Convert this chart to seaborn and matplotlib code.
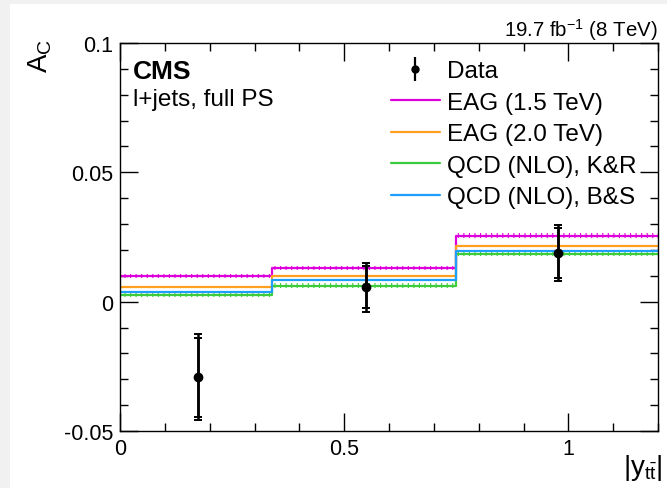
import numpy as np
import pandas as pd
import matplotlib
matplotlib.use('Agg')
import matplotlib.pyplot as plt
from matplotlib.patches import Rectangle
from matplotlib.lines import Line2D
import seaborn as sns

# ======================================
# Data
# ======================================

bin_edges = [0.0, 0.34, 0.75, 1.2]

models = ['EAG (1.5 TeV)', 'EAG (2.0 TeV)', 'QCD (NLO), K&R', 'QCD (NLO), B&S']
eag15 = [0.0099, 0.0130, 0.0255]
eag20 = [0.0058, 0.0100, 0.0217]
qcd_kr = [0.0027, 0.0062, 0.0186]
qcd_bs = [0.0036, 0.0084, 0.0196]

data_x = [0.173, 0.549, 0.978]
data_y = [-0.0292, 0.0056, 0.0187]
data_stat = [0.0152, 0.0082, 0.0097]
data_tot = [0.0166, 0.0095, 0.0108]

colors = ['#dd00dd', '#ffa020', '#3ccc3c', '#1e9eff']

# ======================================
# Build step table
# ======================================

rows = []
for name, vals in zip(models, [eag15, eag20, qcd_kr, qcd_bs]):
    ys = list(vals) + [vals[-1]]
    for e, v in zip(bin_edges, ys):
        rows.append({'edge': e, 'value': v, 'model': name})
steps = pd.DataFrame(rows)

# ======================================
# Plot
# ======================================

sns.set_theme(style='ticks')
plt.rcParams['font.family'] = ['Liberation Sans', 'DejaVu Sans']
plt.rcParams['mathtext.fontset'] = 'custom'
plt.rcParams['mathtext.rm'] = 'Liberation Sans'
plt.rcParams['mathtext.it'] = 'Liberation Sans:italic'
plt.rcParams['hatch.linewidth'] = 0.8
plt.rcParams['text.color'] = 'black'

fig = plt.figure(figsize=(6.67, 4.89), dpi=100)
fig.patch.set_facecolor('#f1f1f1')
fig.add_artist(Rectangle((10 / 667, 0), 1, 484 / 489, transform=fig.transFigure,
                         facecolor='white', edgecolor='none', zorder=-10))

ax = fig.add_axes([120 / 667, 1 - 432 / 489, 538 / 667, 388 / 489])
ax.set_facecolor('white')

# small hatched uncertainty bands
for vals, c in [(eag15, colors[0]), (qcd_kr, colors[2])]:
    ys = np.array(list(vals) + [vals[-1]])
    ax.fill_between(bin_edges, ys - 0.0009, ys + 0.0009, step='post',
                    facecolor='none', edgecolor=c, hatch='|||', linewidth=0)

sns.lineplot(
    data=steps, x='edge', y='value', hue='model', hue_order=models,
    palette=colors, drawstyle='steps-post', estimator=None, sort=False,
    linewidth=1.6, legend=False, ax=ax
)

# data points with stat and total errors
ax.errorbar(data_x, data_y, yerr=data_tot, fmt='none', ecolor='black',
            elinewidth=1.8, capsize=3, capthick=1.4, zorder=5)
ax.errorbar(data_x, data_y, yerr=data_stat, fmt='o', color='black',
            markersize=6, elinewidth=1.8, capsize=3, capthick=1.4, zorder=6)

ax.set_xlim(0, 1.2)
ax.set_ylim(-0.05, 0.1)
ax.set_xticks([0, 0.5, 1])
ax.set_xticklabels(['0', '0.5', '1'])
ax.set_yticks([-0.05, 0, 0.05, 0.1])
ax.set_yticklabels(['-0.05', '0', '0.05', '0.1'])
ax.set_xticks(np.arange(0, 1.21, 0.1), minor=True)
ax.set_yticks(np.arange(-0.05, 0.1001, 0.01), minor=True)
ax.tick_params(which='both', direction='in', top=True, right=True,
               labelsize=15.5, colors='black', width=1)
ax.tick_params(which='major', length=13, pad=5)
ax.tick_params(which='minor', length=6)
for s in ax.spines.values():
    s.set_color('black')
    s.set_linewidth(1)

ax.set_xlabel('')
ax.set_ylabel('')
fig.text(643 / 667, 1 - 468 / 489, r'|y$_{\mathregular{t\bar{t}}}$|', fontsize=20,
         ha='center', va='center')
fig.text(40 / 667, 1 - 56 / 489, r'A$_\mathregular{C}$', fontsize=20,
         rotation=90, ha='center', va='center')

fig.text(658 / 667, 1 - 30 / 489, r'19.7 fb$^{\mathregular{-1}}$ (8 TeV)',
         fontsize=14.7, ha='right', va='center')

fig.text(133 / 667, 1 - 72 / 489, 'CMS', fontsize=19, fontweight='bold',
         va='center', ha='left')
fig.text(133 / 667, 1 - 100 / 489, 'l+jets, full PS', fontsize=17.5,
         va='center', ha='left')

# legend
data_handle = ax.errorbar([], [], yerr=[], fmt='o', color='black',
                          markersize=5, elinewidth=1.6)
handles = [data_handle] + [Line2D([], [], color=c, linewidth=1.6) for c in colors]
labels = ['Data'] + models
ax.legend(handles, labels, loc='upper left',
          bbox_to_anchor=(379 / 667, 1 - 49 / 489), bbox_transform=fig.transFigure,
          frameon=False, fontsize=17.5, handlelength=2.0, handletextpad=0.3,
          labelspacing=0.39, borderpad=0, labelcolor='black')

fig.savefig('out.png', dpi=100, facecolor=fig.get_facecolor())
